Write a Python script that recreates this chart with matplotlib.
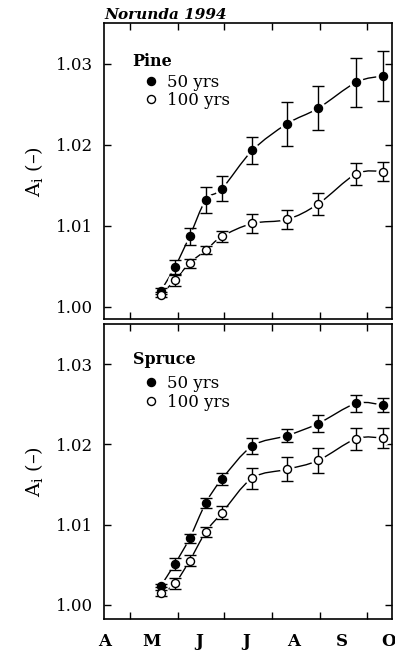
import numpy as np
import matplotlib
matplotlib.use('Agg')
import matplotlib.pyplot as plt
from matplotlib.path import Path
from matplotlib.patches import PathPatch
from matplotlib.lines import Line2D

# sampling dates (day of year)
days = [141, 150, 159.5, 170, 180.5, 200, 222.5, 242.5, 267, 284.5]

pine_50 = [1.0020, 1.0049, 1.0087, 1.0132, 1.0146, 1.0193, 1.0226, 1.0245, 1.0277, 1.0285]
pine_50_err = [0.0004, 0.00085, 0.0011, 0.0016, 0.0015, 0.0017, 0.0027, 0.0027, 0.0030, 0.0031]
pine_100 = [1.0015, 1.0033, 1.0054, 1.0070, 1.0087, 1.0103, 1.0108, 1.0127, 1.0164, 1.0167]
pine_100_err = [0.0003, 0.00067, 0.00054, 0.0005, 0.00067, 0.0012, 0.0012, 0.0013, 0.0013, 0.0012]
spruce_50 = [1.0024, 1.0051, 1.0083, 1.0127, 1.0157, 1.0198, 1.0211, 1.0226, 1.0251, 1.0249]
spruce_50_err = [0.0002, 0.0007, 0.0006, 0.0006, 0.0007, 0.0010, 0.00083, 0.0011, 0.0010, 0.0009]
spruce_100 = [1.0015, 1.0027, 1.0055, 1.0091, 1.0115, 1.0158, 1.0169, 1.0180, 1.0207, 1.0208]
spruce_100_err = [0.0004, 0.0007, 0.0007, 0.0006, 0.0008, 0.0013, 0.0015, 0.0015, 0.0014, 0.0013]

month_starts = [121, 152, 182, 213, 244, 274]
month_mid = [105, 135, 166, 196, 227, 258, 288]
month_labels = ['A', 'M', 'J', 'J', 'A', 'S', 'O']
yticks = [1.00, 1.01, 1.02, 1.03]
ytick_labels = ['1.00', '1.01', '1.02', '1.03']

plt.rcParams['font.family'] = ['DejaVu Serif']
plt.rcParams['mathtext.fontset'] = 'dejavuserif'

fig = plt.figure(figsize=(3.95, 6.5), dpi=100)
ax1 = fig.add_axes([0.263, 0.509, 0.729, 0.4554])
ax2 = fig.add_axes([0.263, 0.0477, 0.729, 0.4538])


def smooth_path(x, y):
    pts = np.column_stack([x, y]).astype(float)
    n = len(pts)
    verts = [pts[0]]
    codes = [Path.MOVETO]
    for i in range(n - 1):
        p0 = pts[i - 1] if i > 0 else pts[i]
        p1 = pts[i]
        p2 = pts[i + 1]
        p3 = pts[i + 2] if i + 2 < n else pts[i + 1]
        c1 = p1 + (p2 - p0) / 6.0
        c2 = p2 - (p3 - p1) / 6.0
        verts += [c1, c2, p2]
        codes += [Path.CURVE4] * 3
    return Path(verts, codes)


def draw_series(ax, x, y, err, filled):
    ax.add_patch(PathPatch(smooth_path(x, y), facecolor='none',
                           edgecolor='black', lw=1.0, zorder=1))
    ax.plot(x, y, ls='none', marker='o', ms=9.5, mfc='white', mec='white', zorder=2)
    ax.errorbar(x, y, yerr=err, fmt='none', ecolor='black', elinewidth=1.0,
                capsize=4, capthick=1.0, zorder=3)
    ax.plot(x, y, ls='none', marker='o', ms=5.8,
            mfc='black' if filled else 'white', mec='black', mew=1.0, zorder=4)


draw_series(ax1, days, pine_50, pine_50_err, True)
draw_series(ax1, days, pine_100, pine_100_err, False)
draw_series(ax2, days, spruce_50, spruce_50_err, True)
draw_series(ax2, days, spruce_100, spruce_100_err, False)

for ax, title, anchor_y, sep, lspace in [(ax1, 'Pine', 0.900, 3, 0.08),
                                         (ax2, 'Spruce', 0.910, 5, 0.15)]:
    ax.set_xlim(104.2, 290.1)
    ax.set_ylim(0.9985, 1.035)
    ax.set_xticks(month_starts)
    ax.set_xticks(month_mid, minor=True)
    ax.set_yticks(yticks)
    ax.set_yticklabels(ytick_labels, fontsize=12)
    ax.tick_params(axis='both', which='major', direction='in', length=5, width=1,
                   top=True, right=True, labelbottom=False)
    ax.tick_params(axis='y', which='major', pad=8)
    ax.tick_params(axis='x', which='minor', length=0, bottom=False, top=False)
    for s in ax.spines.values():
        s.set_linewidth(1.2)
    ax.set_ylabel(r'$\mathrm{A_i}$ (–)', fontsize=14, labelpad=8)
    handles = [Line2D([], [], ls='none', marker='o', ms=5.8, mfc='black', mec='black'),
               Line2D([], [], ls='none', marker='o', ms=5.8, mfc='white', mec='black')]
    leg = ax.legend(handles, ['50 yrs', '100 yrs'], title=title, loc='upper left',
                    bbox_to_anchor=(0.100, anchor_y), frameon=False, fontsize=12,
                    title_fontproperties={'weight': 'bold', 'size': 11.5},
                    handlelength=2.16, handletextpad=-0.1, labelspacing=lspace,
                    borderpad=0, borderaxespad=0, alignment='left')
    leg._legend_box.sep = sep

ax2.set_ylim(0.99825, 1.035)
ax2.set_xticklabels(month_labels, minor=True, fontsize=12, fontweight='bold')
ax2.tick_params(axis='x', which='minor', labelbottom=True, pad=10)

fig.text(104 / 395, 1 - 15 / 650, 'Norunda 1994', fontsize=11, fontstyle='italic',
         fontweight='bold', va='center', ha='left')

fig.savefig('out.png', dpi=100)
